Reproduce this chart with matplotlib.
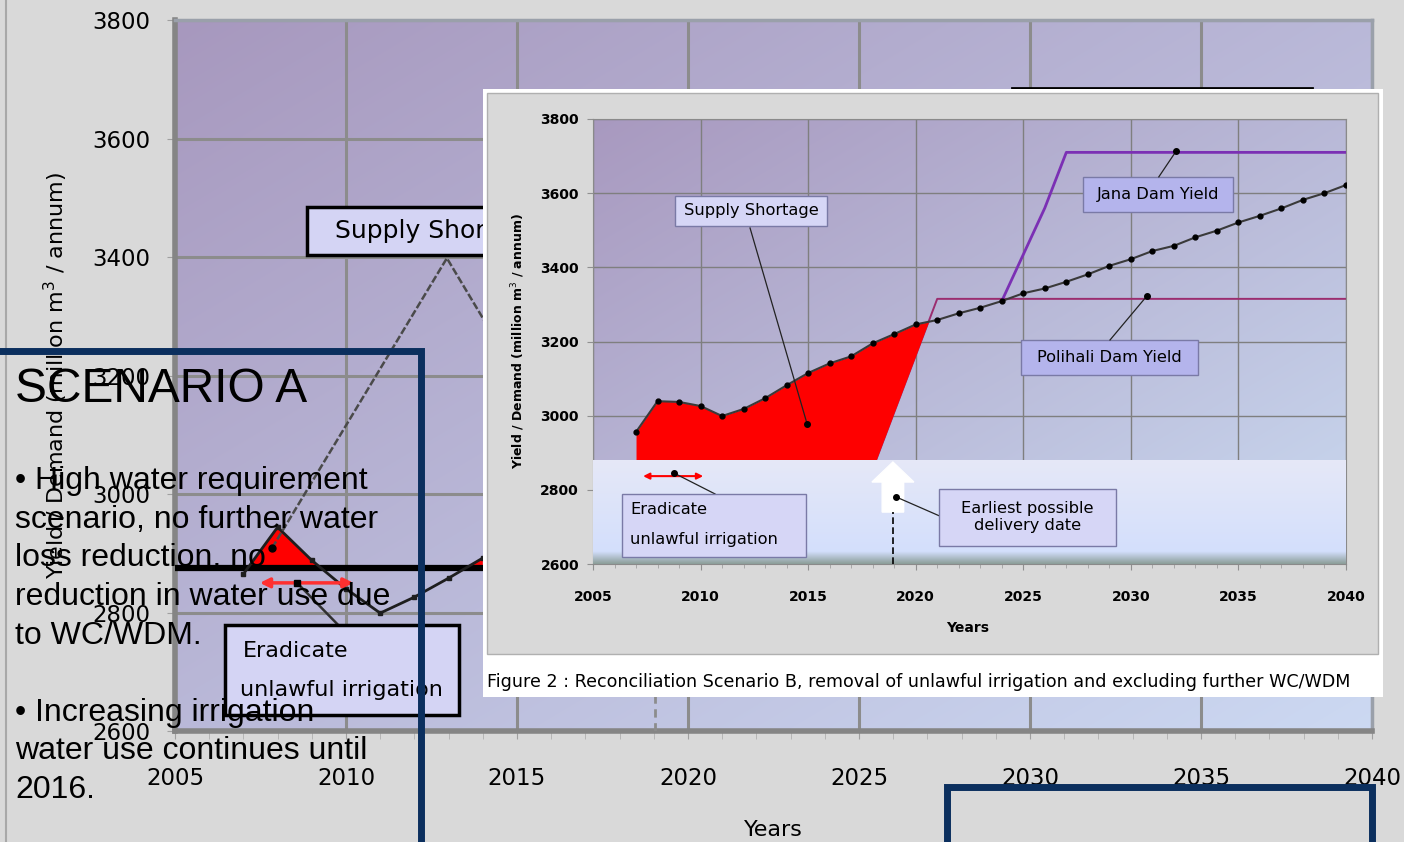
import numpy as np
import matplotlib.pyplot as plt
from matplotlib.patches import Rectangle, FancyArrow
from matplotlib.lines import Line2D
from matplotlib.ticker import MultipleLocator

W, H = 1404, 842

# background chart (Scenario A, enlarged on the slide)
bg_years = [2007, 2008, 2009, 2010, 2011, 2012, 2013, 2014]
bg_demand = [2865, 2944, 2888, 2840, 2799, 2826, 2858, 2892]
bg_supply = 2875
x_ticks = [2005, 2010, 2015, 2020, 2025, 2030, 2035, 2040]
y_ticks = [2600, 2800, 3000, 3200, 3400, 3600, 3800]

# inset chart (Figure 2, Scenario B)
years = np.arange(2007, 2041)
demand = [2956, 3039, 3037, 3026, 2999, 3018, 3047, 3082, 3115, 3141,
          3160, 3195, 3220, 3246, 3258, 3276, 3291, 3309, 3330, 3343,
          3361, 3381, 3404, 3422, 3444, 3458, 3481, 3499, 3521, 3539,
          3559, 3582, 3600, 3622]
polihali_years = [2016, 2021, 2040]
polihali_yield = [2550, 3315, 3315]
jana_years = [2024, 2026, 2027, 2040]
jana_yield = [3309, 3560, 3710, 3710]
shortage_end = 2021
band_top = 2880

ylabel = 'Yield / Demand (million m$^3$ / annum)'
caption = ('Figure 2 : Reconciliation Scenario B, removal of unlawful '
           'irrigation and excluding further WC/WDM')
title = 'SCENARIO A'
bullets = ('\u2022 High water requirement\nscenario, no further water\n'
           'loss reduction, no\nreduction in water use due\nto WC/WDM.\n\n'
           '\u2022 Increasing irrigation\nwater use continues until\n2016.')


def fig_rect(x0, y0, x1, y1):
    return [x0 / W, 1 - y1 / H, (x1 - x0) / W, (y1 - y0) / H]


def gradient(ax, c0, c1, extent, zorder=0):
    n = 200
    xx, yy = np.meshgrid(np.linspace(0, 1, n), np.linspace(0, 1, n))
    t = ((xx + yy) / 2)[..., None]
    img = np.array(c0) * (1 - t) + np.array(c1) * t
    ax.imshow(img, extent=extent, aspect='auto', zorder=zorder,
              interpolation='bilinear')


def box(ax, x0, x1, y0, y1, fc, ec, lw, z):
    ax.add_patch(Rectangle((x0, y0), x1 - x0, y1 - y0, fc=fc, ec=ec,
                           lw=lw, zorder=z))


fig = plt.figure(figsize=(W / 100, H / 100), dpi=100, facecolor='#d9d9d9')

# ---------------- background chart ----------------
ax = fig.add_axes(fig_rect(175, 20, 1372, 731))
ax.set_zorder(0)
gradient(ax, (0.655, 0.596, 0.745), (0.80, 0.85, 0.95),
         [2005, 2040, 2600, 3800])
ax.set_xlim(2005, 2040)
ax.set_ylim(2600, 3800)
ax.set_xticks(x_ticks)
ax.set_yticks(y_ticks)
ax.xaxis.set_minor_locator(MultipleLocator(1))
ax.grid(color='#8c8c8c', lw=2.2)
ax.set_axisbelow(True)
for s in ['left', 'bottom']:
    ax.spines[s].set_color('#858585')
    ax.spines[s].set_linewidth(4)
for s in ['top', 'right']:
    ax.spines[s].set_color('#9aa0aa')
    ax.spines[s].set_linewidth(2.5)
ax.tick_params(axis='y', labelsize=16.5, length=6, color='#a0a0a0', pad=12)
ax.tick_params(axis='x', labelsize=16.5, length=6, color='#a0a0a0', pad=20)
ax.tick_params(axis='x', which='minor', length=6, color='#b0b0b0')
ax.set_ylabel(ylabel, fontsize=16)
ax.yaxis.set_label_coords(-0.088, 0.5)
ax.set_xlabel('Years', fontsize=16, va='top')
ax.xaxis.set_label_coords(0.4996, -0.125)

ax.axhline(bg_supply, color='black', lw=4.5, zorder=3)
xf = np.linspace(bg_years[0], bg_years[-1], 500)
df = np.interp(xf, bg_years, bg_demand)
ax.fill_between(xf, bg_supply, df, where=df > bg_supply, color='#ff0000',
                lw=0, zorder=2)
ax.plot(bg_years, bg_demand, color='#1e1e1e', lw=2, marker='s', ms=3.5,
        zorder=4)

box(ax, 2008.86, 2020, 3403, 3484, '#d4d4f4', 'black', 2.5, 5)
ax.text(2009.68, 3444, 'Supply Shortage', fontsize=18, va='center', zorder=6)
ax.plot([2007.84, 2012.95, 2014.3], [2909, 3398, 3268], color='#4a4a4a',
        lw=1.8, ls=(0, (3, 1)), zorder=5)
ax.plot([2007.84], [2909], 'o', color='black', ms=5, zorder=5)

ax.annotate('', xy=(2007.4, 2850), xytext=(2010.3, 2850),
            arrowprops=dict(arrowstyle='<|-|>', color='#ff3030', lw=2.5,
                            mutation_scale=14), zorder=5)
ax.plot([2008.57, 2009.77], [2850, 2779], color='#303030', lw=1.8, zorder=5)
ax.plot([2008.57], [2850], 's', color='black', ms=5, zorder=5)
box(ax, 2006.46, 2013.30, 2627, 2779, '#d4d4f4', 'black', 2.5, 5)
ax.text(2006.99, 2735, 'Eradicate', fontsize=16, va='center', zorder=6)
ax.text(2006.9, 2669, 'unlawful irrigation', fontsize=16, va='center',
        zorder=6)
box(ax, 2029.47, 2038.25, 3600, 3685, '#d4d4f4', 'black', 2, 5)
ax.plot([2019.03, 2019.03], [2600, 2720], color='#8c8c8c', lw=2,
        ls=(0, (3, 2)), zorder=3)

# ---------------- inset panel ----------------
fig.add_artist(Rectangle((483 / W, 1 - 697 / H), 900 / W, 608 / H,
                         transform=fig.transFigure, fc='white', ec='none',
                         zorder=2))
fig.add_artist(Rectangle((487 / W, 1 - 654 / H), 891 / W, 561 / H,
                         transform=fig.transFigure, fc='#d9d9d9',
                         ec='#b0b0b0', lw=1, zorder=2.1))
fig.text(487 / W, 1 - 682 / H, caption, fontsize=12.6, va='center',
         zorder=2.2)

ax2 = fig.add_axes(fig_rect(593, 119, 1346, 564))
ax2.set_zorder(3)
gradient(ax2, (0.66, 0.60, 0.75), (0.79, 0.85, 0.94),
         [2005, 2040, 2600, 3800])
ax2.set_xlim(2005, 2040)
ax2.set_ylim(2600, 3800)
ax2.set_xticks(x_ticks)
ax2.set_yticks(y_ticks)
ax2.xaxis.set_minor_locator(MultipleLocator(1))
ax2.grid(color='#7f7f7f', lw=1)
ax2.set_axisbelow(True)
for s in ax2.spines.values():
    s.set_color('#8a8a8a')
ax2.tick_params(axis='y', labelsize=10, length=4, color='#909090', pad=6)
ax2.tick_params(axis='x', labelsize=10, length=4, color='#909090', pad=15)
ax2.tick_params(axis='x', which='minor', length=3, color='#a0a0a0')
for lab in ax2.get_xticklabels() + ax2.get_yticklabels():
    lab.set_fontweight('bold')
ax2.set_ylabel(ylabel, fontsize=9, fontweight='bold')
ax2.yaxis.set_label_coords(-0.088, 0.5)
ax2.set_xlabel('Years', fontsize=10, va='top', fontweight='bold')
ax2.xaxis.set_label_coords(0.498, -0.128)

xf = np.linspace(2007, 2040, 3301)
df = np.interp(xf, years, demand)
pf = np.maximum(np.interp(xf, polihali_years, polihali_yield), band_top)
ax2.plot(polihali_years, polihali_yield, color='#9b2d6f', lw=1.4, zorder=2)
ax2.fill_between(xf, pf, df, where=(df > pf) & (xf < shortage_end),
                 color='#fe0000', lw=0, zorder=3)
ax2.plot(jana_years, jana_yield, color='#7b30b4', lw=2, zorder=4)
ax2.plot(years, demand, color='#3a3a3a', lw=1.5, marker='o', ms=3.5,
         mfc='black', mec='black', zorder=4)

# pale band over the lower part
n = 200
t = np.linspace(0, 1, n)[:, None, None]
band = np.array([0.90, 0.91, 0.97]) * (1 - t) + np.array([0.82, 0.87, 0.99]) * t
tt = t[:, 0, 0]
edge = tt > 0.88
mix = ((tt[edge] - 0.88) / 0.12)[:, None]
band[edge, 0, :] = band[edge, 0, :] * (1 - mix) + np.array([0.55, 0.62, 0.60]) * mix
ax2.imshow(band, extent=[2005, 2040, 2600, band_top], aspect='auto',
           zorder=5, interpolation='bilinear')
ax2.set_xlim(2005, 2040)
ax2.set_ylim(2600, 3800)

callout_fc = '#d6d6f6'
dark_fc = '#b4b4ec'
edge_c = '#7a7aa6'
cfs = 11.7

box(ax2, 2008.81, 2015.88, 3511, 3592, callout_fc, edge_c, 1, 6)
ax2.text(2012.34, 3552, 'Supply Shortage', fontsize=cfs, ha='center',
         va='center', zorder=7)
ax2.plot([2014.95, 2012.3], [2978, 3506], color='#222222', lw=0.9, zorder=6)
ax2.plot([2014.95], [2978], 'o', color='black', ms=4, zorder=6)

box(ax2, 2027.78, 2034.75, 3549, 3644, dark_fc, edge_c, 1, 6)
ax2.text(2031.26, 3596, 'Jana Dam Yield', fontsize=cfs, ha='center',
         va='center', zorder=7)
ax2.plot([2032.1, 2031.3], [3713, 3644], color='#222222', lw=0.9, zorder=6)
ax2.plot([2032.1], [3713], 'o', color='black', ms=4, zorder=6)

box(ax2, 2024.89, 2033.12, 3110, 3204, dark_fc, edge_c, 1, 6)
ax2.text(2029.0, 3157, 'Polihali Dam Yield', fontsize=cfs, ha='center',
         va='center', zorder=7)
ax2.plot([2030.75, 2029.03], [3323, 3204], color='#222222', lw=0.9, zorder=6)
ax2.plot([2030.75], [3323], 'o', color='black', ms=4, zorder=6)

ax2.annotate('', xy=(2007.2, 2837), xytext=(2010.25, 2837),
             arrowprops=dict(arrowstyle='<|-|>', color='red', lw=1.5,
                             mutation_scale=9), zorder=6)
ax2.plot([2008.77, 2010.67], [2845, 2789], color='#222222', lw=0.9, zorder=6)
ax2.plot([2008.77], [2845], 'o', color='black', ms=4, zorder=7)
box(ax2, 2006.35, 2014.90, 2619, 2789, callout_fc, edge_c, 1, 6)
ax2.text(2006.72, 2746, 'Eradicate', fontsize=cfs, va='center', zorder=7)
ax2.text(2006.72, 2665, 'unlawful irrigation', fontsize=cfs, va='center',
         zorder=7)

ax2.add_patch(FancyArrow(2018.94, 2740, 0, 135, width=1.0, head_width=1.95,
                         head_length=54, length_includes_head=True,
                         fc='white', ec='white', zorder=6))
ax2.plot([2018.94, 2018.94], [2600, 2740], color='black', lw=1.2,
         ls=(0, (4, 2)), zorder=6)
ax2.plot([2019.08, 2021.13], [2781, 2729], color='#222222', lw=0.9, zorder=6)
ax2.plot([2019.08], [2781], 'o', color='black', ms=4, zorder=7)
box(ax2, 2021.08, 2029.31, 2649, 2802, callout_fc, edge_c, 1, 6)
ax2.text(2025.2, 2727, 'Earliest possible\ndelivery date', fontsize=cfs,
         ha='center', va='center', linespacing=1.2, zorder=7)

# ---------------- slide overlay ----------------
fig.add_artist(Line2D([6 / W, 6 / W], [0, 1], transform=fig.transFigure,
                      color='#a8a8a8', lw=1.5, zorder=4))
fig.text(15 / W, 1 - 390 / H, title, fontsize=34.5, family='Liberation Sans',
         va='center', zorder=5)
fig.text(15 / W, 1 - 466 / H, bullets, fontsize=23, family='Liberation Sans',
         va='top', linespacing=1.375, zorder=5)
fig.add_artist(Line2D([0, 421 / W, 421 / W], [1 - 351 / H, 1 - 351 / H, 0],
                      transform=fig.transFigure, color='#0b2f5e', lw=5,
                      solid_joinstyle='miter', zorder=6))
fig.add_artist(Line2D([947 / W, 947 / W, 1372 / W, 1372 / W],
                      [0, 1 - 787 / H, 1 - 787 / H, 0],
                      transform=fig.transFigure, color='#0b2f5e', lw=5,
                      solid_joinstyle='miter', zorder=6))

fig.savefig('out.png', dpi=100, facecolor=fig.get_facecolor())
